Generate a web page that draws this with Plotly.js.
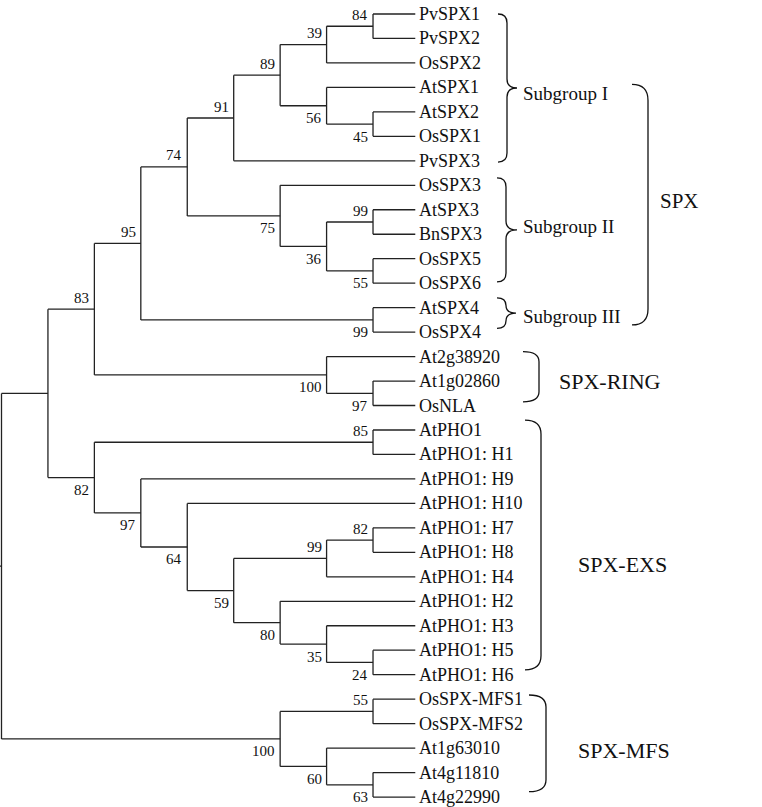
<!DOCTYPE html>
<html><head><meta charset="utf-8">
<script src="https://cdn.plot.ly/plotly-3.0.1.min.js"></script>
<style>html,body{margin:0;padding:0;background:#fff}</style>
</head><body><div id="chart" style="width:762px;height:807px"></div>
<script>
// ---------------- DATA ----------------
const leafNames = ["PvSPX1","PvSPX2","OsSPX2","AtSPX1","AtSPX2","OsSPX1","PvSPX3",
  "OsSPX3","AtSPX3","BnSPX3","OsSPX5","OsSPX6","AtSPX4","OsSPX4",
  "At2g38920","At1g02860","OsNLA",
  "AtPHO1","AtPHO1: H1","AtPHO1: H9","AtPHO1: H10","AtPHO1: H7","AtPHO1: H8","AtPHO1: H4",
  "AtPHO1: H2","AtPHO1: H3","AtPHO1: H5","AtPHO1: H6",
  "OsSPX-MFS1","OsSPX-MFS2","At1g63010","At4g11810","At4g22990"];

// internal nodes (binary), children refer to leaf names or node names
const nodeNames  = ["n84","n39","n45","n56","n89","n91","n99a","n55a","n36","n75","n74","n99b","n95",
  "n97a","n100a","n83","n85","n82b","n99c","n24","n35","n80","n59","n64","n97b","n82","n1",
  "n55m","n63","n60","n100m","root"];
const nodeChildA = ["PvSPX1","n84","AtSPX2","AtSPX1","n39","n89","AtSPX3","OsSPX5","n99a","OsSPX3","n91","AtSPX4","n74",
  "At1g02860","At2g38920","n95","AtPHO1","AtPHO1: H7","n82b","AtPHO1: H5","AtPHO1: H3","AtPHO1: H2","n99c","AtPHO1: H10","AtPHO1: H9","n85","n83",
  "OsSPX-MFS1","At4g11810","At1g63010","n55m","n1"];
const nodeChildB = ["PvSPX2","OsSPX2","OsSPX1","n45","n56","PvSPX3","BnSPX3","OsSPX6","n55a","n36","n75","OsSPX4","n99b",
  "OsNLA","n97a","n100a","AtPHO1: H1","AtPHO1: H8","AtPHO1: H4","AtPHO1: H6","n24","n35","n80","n59","n64","n97b","n82",
  "OsSPX-MFS2","At4g22990","n63","n60","n100m"];
const nodeSupport = [84,39,45,56,89,91,99,55,36,75,74,99,95,
  97,100,83,85,82,99,24,35,80,59,64,97,82,null,
  55,63,60,100,null];

const groupNames = ["Subgroup I","Subgroup II","Subgroup III","SPX","SPX-RING","SPX-EXS","SPX-MFS"];
const groupFirst = ["PvSPX1","OsSPX3","AtSPX4","PvSPX1","At2g38920","AtPHO1","OsSPX-MFS1"];
const groupLast  = ["PvSPX3","OsSPX6","OsSPX4","OsSPX4","OsNLA","AtPHO1: H6","At4g22990"];

// ---------------- LAYOUT / STYLE ----------------
const W = 762, H = 807;
const PX_X0 = 1.5, PX_STEP_X = 46.44;   // pixel of level 0, pixels per level
const PX_Y0 = 14, PX_STEP_Y = 24.47;    // pixel of first leaf row, pixels per row
const LEAF_GAP = 0.09;                  // gap between leaf line end and label
const FONT = "Liberation Serif, Times New Roman, serif";
const LINE = {color:"#222", width:1.3};
const X = px => (px - PX_X0) / PX_STEP_X;
const Y = py => (py - PX_Y0) / PX_STEP_Y;
const rowPx = r => PX_Y0 + PX_STEP_Y * r;

// ---------------- TREE LAYOUT ----------------
const nodeIdx = {}; nodeNames.forEach((n,i)=>nodeIdx[n]=i);
const pos = {}; const parentOf = {};
function lay(name){
  if (!(name in nodeIdx)) { pos[name] = {y: leafNames.indexOf(name), h:0, leaf:true}; return pos[name]; }
  const i = nodeIdx[name];
  const a = nodeChildA[i], b = nodeChildB[i];
  parentOf[a] = {p:name, first:true}; parentOf[b] = {p:name, first:false};
  const pa = lay(a), pb = lay(b);
  pos[name] = {y:(pa.y+pb.y)/2, h:Math.max(pa.h,pb.h)+1, leaf:false, a, b};
  return pos[name];
}
const rootName = nodeNames[nodeNames.length-1];
lay(rootName);
const maxH = pos[rootName].h;
const xOf = n => pos[n].leaf ? maxH - LEAF_GAP : maxH - pos[n].h;

const xs = [], ys = [];
nodeNames.forEach(n=>{
  const p = pos[n], x = xOf(n);
  xs.push(x, x, null); ys.push(pos[p.a].y, pos[p.b].y, null);
  [p.a, p.b].forEach(c=>{ xs.push(x, xOf(c), null); ys.push(pos[c].y, pos[c].y, null); });
});
// root stub
xs.push(X(0), xOf(rootName), null); ys.push(pos[rootName].y, pos[rootName].y, null);

const annotations = [];
// leaf labels
leafNames.forEach((n,i)=>{
  annotations.push({x:maxH, y:i, xref:"x", yref:"y", text:n, showarrow:false,
    xanchor:"left", yanchor:"middle", xshift:-2, yshift:0,
    font:{family:FONT, size:18, color:"#111"}});
});
// bootstrap labels
nodeNames.forEach((n,i)=>{
  const s = nodeSupport[i];
  if (s === null || !parentOf[n]) return;
  const above = parentOf[n].first;
  annotations.push({x:xOf(n), y:pos[n].y, xref:"x", yref:"y", text:String(s), showarrow:false,
    xanchor:"right", yanchor:"middle", xshift:-3, yshift: above ? 11.5 : -12.5,
    font:{family:FONT, size:15, color:"#111"}});
});

// braces / brackets
const shapes = [];
function P(px,py){ return X(px).toFixed(4)+","+Y(py).toFixed(4); }
function curly(x0,x1,x2,yT,yB){
  const yM=(yT+yB)/2, r=Math.min(9,(yB-yT)/4);
  return "M"+P(x0,yT)+" Q"+P(x1,yT)+" "+P(x1,yT+r)+" L"+P(x1,yM-r)+" Q"+P(x1,yM)+" "+P(x2,yM)+
    " Q"+P(x1,yM)+" "+P(x1,yM+r)+" L"+P(x1,yB-r)+" Q"+P(x1,yB)+" "+P(x0,yB);
}
function bracket(x0,x1,yT,yB,r){
  return "M"+P(x0,yT)+" Q"+P(x1,yT)+" "+P(x1,yT+r)+" L"+P(x1,yB-r)+" Q"+P(x1,yB)+" "+P(x0,yB);
}
const braceStyle = [
  {kind:"curly", x:[498,507,517], dT:0.0, dB:0.05},
  {kind:"curly", x:[497,506,517], dT:-0.3, dB:-0.05},
  {kind:"curly", x:[497,506,516], dT:-0.4, dB:-0.15},
  {kind:"bracket", x:[632,648], r:16},
  {kind:"bracket", x:[523,539], r:10, dT:-0.2, dB:-0.15},
  {kind:"bracket", x:[525,541], r:14, dT:-0.4, dB:-0.2},
  {kind:"bracket", x:[529,546], r:12, dT:-0.17, dB:-0.22}
];
const labelX   = [522.7, 522.7, 522.7, 660, 559.3, 578.3, 578.3];
const labelRow = [3.26, 8.70, 12.38, 7.65, 15.0, 22.5, 30.1];
const labelSize= [19, 19, 19, 21, 22, 22, 22];

groupNames.forEach((g,k)=>{
  const st = braceStyle[k];
  const f = leafNames.indexOf(groupFirst[k]), l = leafNames.indexOf(groupLast[k]);
  let path;
  if (k === 3) {
    // SPX bracket spans the subgroup braces' tips
    const yT = rowPx((leafNames.indexOf(groupFirst[0])+leafNames.indexOf(groupLast[0]))/2) - 3;
    const yB = rowPx((leafNames.indexOf(groupFirst[2])+leafNames.indexOf(groupLast[2]))/2) + 5;
    path = bracket(st.x[0], st.x[1], yT, yB, st.r);
  } else if (st.kind === "curly") {
    path = curly(st.x[0], st.x[1], st.x[2], rowPx(f+st.dT), rowPx(l+st.dB));
  } else {
    path = bracket(st.x[0], st.x[1], rowPx(f+st.dT), rowPx(l+st.dB), st.r);
  }
  shapes.push({type:"path", xref:"x", yref:"y", path, line:{color:"#111", width:1.3}});
  annotations.push({x:X(labelX[k]), y:labelRow[k], xref:"x", yref:"y", text:g, showarrow:false,
    xanchor:"left", yanchor:"middle", xshift:-2, font:{family:FONT, size:labelSize[k], color:"#111"}});
});

const trace = {type:"scatter", mode:"lines", x:xs, y:ys, line:LINE, hoverinfo:"skip", connectgaps:false};

const layout = {
  width:W, height:H, margin:{l:0,r:0,t:0,b:0,pad:0},
  paper_bgcolor:"#fff", plot_bgcolor:"#fff", showlegend:false, hovermode:false,
  xaxis:{range:[X(0), X(W)], visible:false, fixedrange:true},
  yaxis:{range:[Y(H), Y(0)], visible:false, fixedrange:true},
  annotations, shapes
};
Plotly.newPlot("chart", [trace], layout, {staticPlot:true, displayModeBar:false});
</script></body></html>
